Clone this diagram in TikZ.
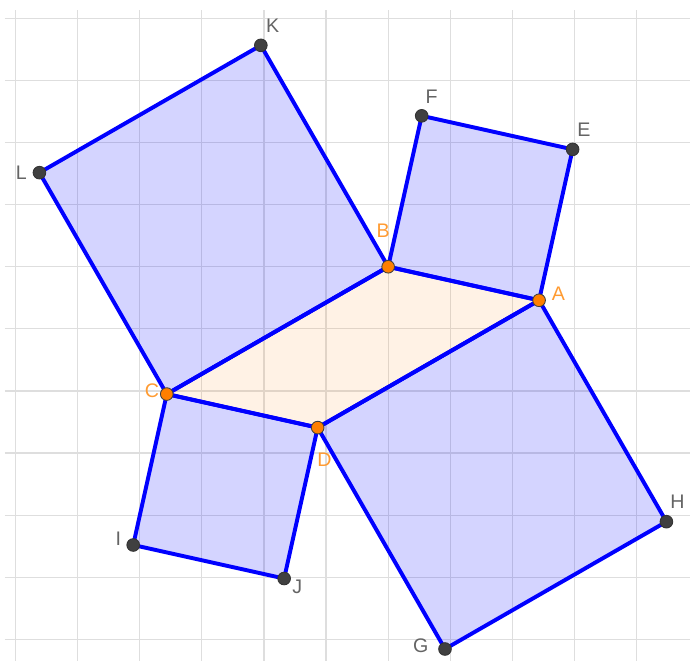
\documentclass[tikz,border=0pt]{standalone}
\usepackage{fontspec}
\setmainfont{Liberation Sans}
\usetikzlibrary{calc}
\definecolor{gridgray}{RGB}{222,222,222}
\definecolor{edgeblue}{RGB}{0,0,255}
\definecolor{ptorange}{RGB}{255,127,0}
\definecolor{ptdark}{RGB}{64,64,64}
\definecolor{labgray}{RGB}{100,100,100}
\definecolor{laborange}{RGB}{255,155,50}
\begin{document}
\begin{tikzpicture}[
  gridline/.style={draw=gridgray, line width=0.55pt},
  sqfill/.style={fill=edgeblue, fill opacity=0.17},
  parfill/.style={fill=ptorange, fill opacity=0.1},
  edge/.style={draw=edgeblue, line width=1.8pt, line join=round},
  darkpt/.style={circle, inner sep=0pt, minimum size=5.8pt, fill=ptdark, draw=black!80, line width=0.4pt},
  orpt/.style={circle, inner sep=0pt, minimum size=5.8pt, fill=ptorange, draw=black!75, line width=0.4pt},
  lab/.style={font=\fontsize{9}{9}\selectfont, text=labgray, inner sep=0pt},
  olab/.style={font=\fontsize{9}{9}\selectfont, text=laborange, inner sep=0pt}
]
\useasboundingbox (-0.25,-0.333) rectangle (10.86,10.295);
% grid
\foreach \x in {0,...,10} \draw[gridline] (\x,-0.34) -- (\x,10.14);
\foreach \y in {0,...,10} \draw[gridline] (-0.17,\y) -- (10.87,\y);
% base points
\coordinate (B) at (6,6);
\coordinate (A) at (8.43,5.46);
\coordinate (C) at (2.435,3.95);
\coordinate (D) at ($(C)+(A)-(B)$);
% squares
\coordinate (F) at ($(B)!1!90:(A)$);
\coordinate (E) at ($(A)!1!-90:(B)$);
\coordinate (L) at ($(C)!1!90:(B)$);
\coordinate (K) at ($(B)!1!-90:(C)$);
\coordinate (I) at ($(C)!1!-90:(D)$);
\coordinate (J) at ($(D)!1!90:(C)$);
\coordinate (G) at ($(D)!1!-90:(A)$);
\coordinate (H) at ($(A)!1!90:(D)$);
% fills
\fill[sqfill] (B) -- (A) -- (E) -- (F) -- cycle;
\fill[sqfill] (C) -- (B) -- (K) -- (L) -- cycle;
\fill[sqfill] (C) -- (D) -- (J) -- (I) -- cycle;
\fill[sqfill] (D) -- (A) -- (H) -- (G) -- cycle;
\fill[parfill] (A) -- (B) -- (C) -- (D) -- cycle;
% edges
\draw[edge] (B) -- (A) -- (E) -- (F) -- cycle;
\draw[edge] (C) -- (B) -- (K) -- (L) -- cycle;
\draw[edge] (C) -- (D) -- (J) -- (I) -- cycle;
\draw[edge] (D) -- (A) -- (H) -- (G) -- cycle;
\draw[edge] (A) -- (B) -- (C) -- (D) -- cycle;
% points
\foreach \p in {K,L,F,E,I,J,G,H} \node[darkpt] (p\p) at (\p) {};
\foreach \p in {A,B,C,D} \node[orpt] (p\p) at (\p) {};
% labels
\node[lab] (lK) at ($(K)+(0.19,0.31)$) {K};
\node[lab] (lL) at ($(L)+(-0.29,0)$) {L};
\node[lab] (lF) at ($(F)+(0.16,0.31)$) {F};
\node[lab] (lE) at ($(E)+(0.18,0.31)$) {E};
\node[lab] (lI) at ($(I)+(-0.24,0.10)$) {I};
\node[lab] (lJ) at ($(J)+(0.21,-0.13)$) {J};
\node[lab] (lH) at ($(H)+(0.18,0.32)$) {H};
\node[lab] (lG) at ($(G)+(-0.39,0.06)$) {G};
\node[olab] (lB) at ($(B)+(-0.08,0.58)$) {B};
\node[olab] (lA) at ($(A)+(0.31,0.10)$) {A};
\node[olab] (lC) at ($(C)+(-0.24,0.05)$) {C};
\node[olab] (lD) at ($(D)+(0.11,-0.52)$) {D};
\end{tikzpicture}
\end{document}
